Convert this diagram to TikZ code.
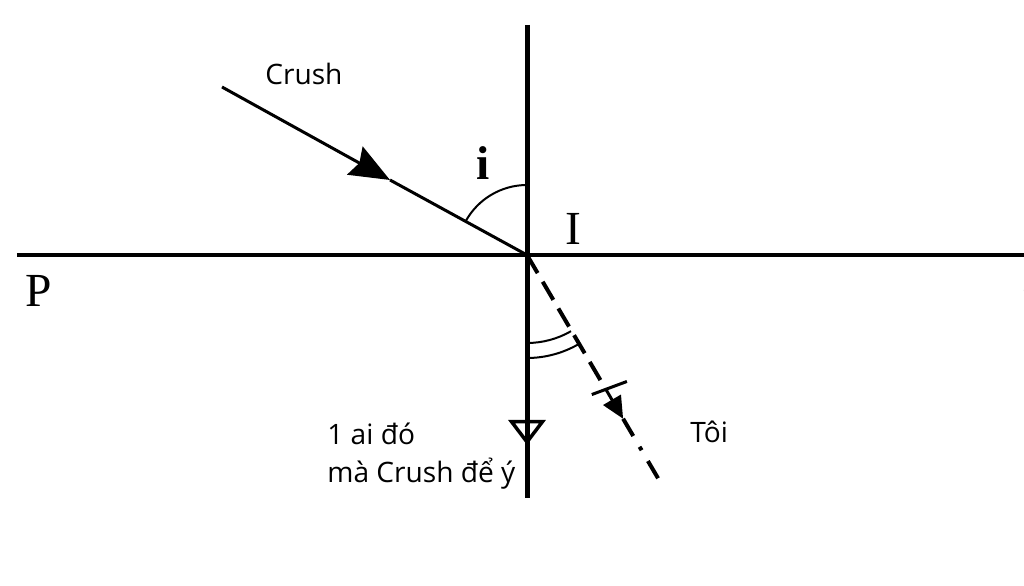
\documentclass[tikz,border=0pt]{standalone}
\usepackage{fontspec}
\setmainfont{Liberation Serif}
\newfontfamily\labelfont{Open Sans}
\usetikzlibrary{arrows.meta,calc}

\tikzset{
  lbl/.style={inner sep=0pt, anchor=base, font=\fontsize{27}{30}\selectfont},
  txt/.style={inner sep=0pt, anchor=base west, font=\labelfont\fontsize{16}{19}\selectfont},
  ray/.style={line width=0.06cm},
  dray/.style={line width=0.08cm, dash pattern=on 0.42cm off 0.2cm}
}

\begin{document}
\begin{tikzpicture}
			\useasboundingbox (0,0) rectangle (20.48,11.72);
			
			% Points of the figure
			\coordinate (I) at (10.54,6.62);
			\coordinate (S) at (4.44,9.98);
			\coordinate (M) at (7.80,8.12);
			\coordinate (E) at (13.24,2.02);
			\coordinate (T) at ($(I)!0.584!(E)$);
			\coordinate (H) at ($(I)!0.712!(E)$);
			
			% Mirror PQ and normal
			\coordinate (PL) at (0.34,6.62);
			\coordinate (PR) at (20.60,6.62);
			\coordinate (NT) at (10.54,11.22);
			\coordinate (NB) at (10.54,1.76);
			\coordinate (V0) at (10.54,3.40);
			\coordinate (V) at (10.54,2.82);
			
			\draw[line width=0.08cm] (PL) -- (PR);
			\draw[line width=0.1cm] (NT) -- (NB);
			\draw[line width=0.07cm, -{Triangle[open, length=5mm, width=7.4mm]}] (V0) -- (V);
			
			% Incident ray
			\draw[ray, -{Stealth[length=8mm, width=6.4mm, inset=1mm]}] (S) -- (M);
			\draw[ray] (M) -- (I);
			
			% Dashed ray
			\draw[dray] (I) -- (T);
			\draw[line width=0.06cm] ($(T)!0.45cm!80:(E)$) -- ($(T)!0.3cm!-100:(E)$);
			\draw[line width=0.06cm, -{Triangle[length=4.4mm, width=4mm]}] (T) -- (H);
			\draw[line width=0.08cm, dash pattern=on 0.4cm off 0.25cm on 0.08cm off 0.25cm] (H) -- (E);
			
			% Angles
			\draw[line width=0.04cm] ($(I)+(90:1.4)$) arc (90:151:1.4);
			\draw[line width=0.04cm] ($(I)+(-90:1.76)$) arc (-90:-60:1.76);
			\draw[line width=0.04cm] ($(I)+(-90:2.06)$) arc (-90:-60:2.06);
			
			% Labels
			\node[lbl] (P) at (0.78,5.58) {P};
			\node[lbl] (Q) at (20.80,5.58) {Q};
			\node[lbl] (Ilbl) at (11.46,6.82) {I};
			\node[lbl, font=\bfseries\fontsize{27}{30}\selectfont] (ilbl) at (9.66,8.12) {i};
			
			\node[txt] (crush) at (5.30,10.02) {Crush};
			\node[txt] (ai) at (6.54,2.82) {1 ai đó};
			\node[txt] (ma) at (6.54,2.06) {mà Crush để ý};
			\node[txt] (toi) at (13.80,2.86) {Tôi};
		\end{tikzpicture}
\end{document}
